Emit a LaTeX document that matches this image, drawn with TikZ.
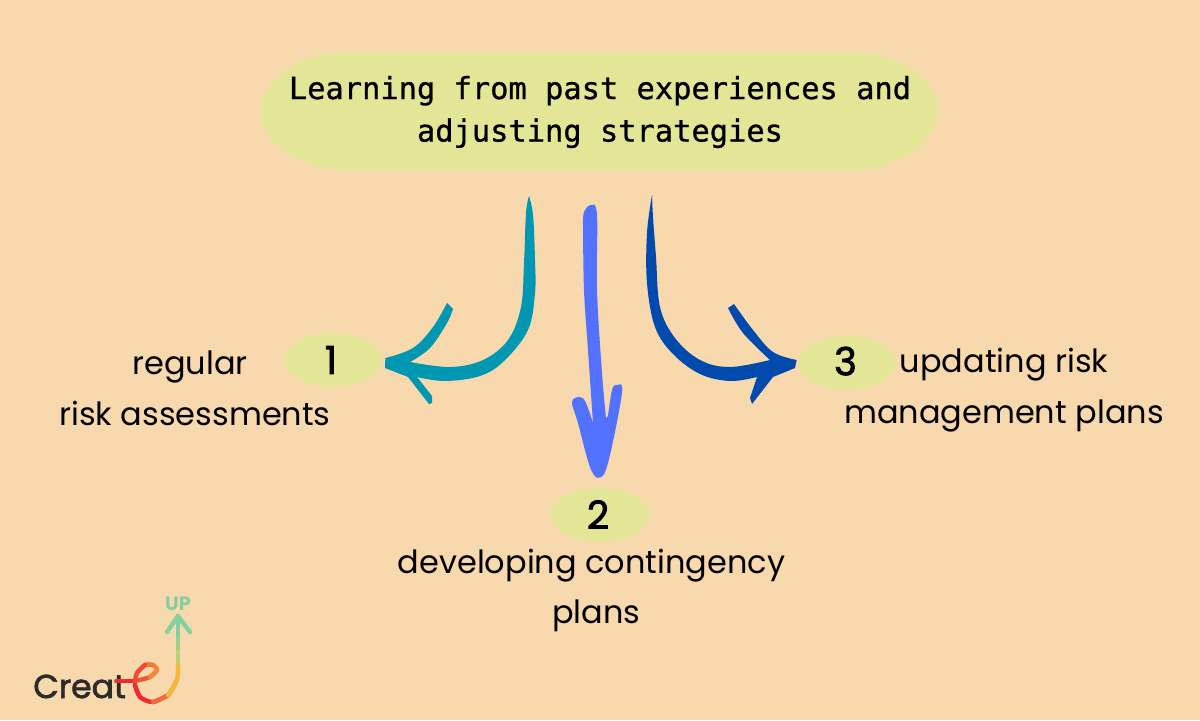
\documentclass[tikz,border=0pt]{standalone}
\usepackage{fontspec}
\usepackage{xcolor}
\setmainfont{Poppins}
\newfontfamily\titlefont[FakeBold=0.9]{DejaVu Sans Mono}
\newfontfamily\markfont[FakeBold=2]{Poppins}
\usetikzlibrary{shapes.geometric,positioning,calc}
\definecolor{pagebg}{HTML}{F8D9AE}
\definecolor{padgreen}{HTML}{E3E597}
\definecolor{tealink}{HTML}{0097B2}
\definecolor{deepink}{HTML}{004AAD}
\definecolor{skyink}{HTML}{5271FF}
\definecolor{logogreen}{HTML}{85CFA0}
\definecolor{logored}{HTML}{EE2B2F}
\definecolor{logoyellow}{HTML}{F7D13E}
\definecolor{logodark}{HTML}{2B2B2B}

\begin{document}
\begin{tikzpicture}[
    x=0.02cm, y=-0.02cm,
    numpad/.style={ellipse, fill=padgreen, inner sep=0pt, minimum width=1.96cm, minimum height=1.08cm, font=\markfont\fontsize{22}{24}\selectfont},
    caption/.style={align=center, inner sep=0pt, font=\fontsize{18.2}{29}\selectfont},
    logoline/.style={line width=2.5pt, line cap=round, line join=round},
    brush/.style={smooth, tension=0.6}
]
    \useasboundingbox (0,0) rectangle (1200,720);
    \fill[pagebg] (0,0) rectangle (1200,720);

    % Title
    \fill[padgreen] (350,52) -- (849,52) arc[start angle=90, end angle=-90, x radius=1.78cm, y radius=1.18cm]
        -- (350,170) arc[start angle=270, end angle=90, x radius=1.78cm, y radius=1.18cm] -- cycle;
    \node[align=center, inner sep=0pt, font=\titlefont\fontsize{17.3}{24.2}\selectfont] (title) at (600,112)
        {Learning from past experiences and\\adjusting strategies};
    \coordinate (titlebottom) at (600,170);

    % Numbered pads
    \node[numpad] (one) at (333,360) {\kern-0.08cm 1};
    \node[numpad] (two) at (600,515) {\kern-0.08cm\raisebox{0.02cm}{2}};
    \node[numpad] (three) at (847,363) {\kern-0.06cm\raisebox{0.08cm}{3}};

    % Captions
    \node[caption] (captionone) at (195,388) {regular\rule{0.2cm}{0pt}\\risk assessments};
    \node[caption] (captiontwo) at (591.5,590.5) {developing contingency\\\hspace{0.2cm}plans};
    \node[caption] (captionthree) at (1004,390.5) {updating risk\\management plans};

    % Brush arrows
    \coordinate (tealtop) at ($(titlebottom)+(-71,26)$);
    \coordinate (tealtip) at ($(one.east)+(3,-2)$);
    \coordinate (skytop) at ($(titlebottom)+(-9,35)$);
    \coordinate (skytip) at ($(two.north)+(-1,-10)$);
    \coordinate (deeptop) at ($(titlebottom)+(52,25)$);
    \coordinate (deeptip) at ($(three.west)+(-1,-3)$);

    \fill[tealink] plot[brush] coordinates {(tealtop) (533,215) (535,260) (535,293) (528,330) (504,361) (480,376) (445,381) (417,377)}
        -- (432,396) -- (432,403) -- (429,404) -- (408,377) -- (385,368) -- (tealtip)
        -- plot[brush] coordinates {(tealtip) (413,348) (433,327) (447,303)}
        -- (453,309)
        -- plot[brush] coordinates {(453,309) (447,323) (430,348) (410,362)}
        -- plot[brush] coordinates {(410,362) (450,367) (483,360) (508,340) (521,307) (524,263) (526,213) (tealtop)} -- cycle;

    \fill[skyink] plot[brush] coordinates {(583,225) (584,212) (skytop) (597,215) (597,290) (602,373) (606,418)}
        -- (608,416)
        -- plot[brush] coordinates {(608,416) (612,390) (617,385) (622,393) (608,463) (skytip) (590,467) (578,423) (572,402) (580,397) (586,403) (593,423)}
        -- plot[brush] coordinates {(593,423) (588,350) (584,290) (583,225)} -- cycle;

    \fill[deepink] plot[brush] coordinates {(deeptop) (647,233) (647,283) (655,327) (673,354) (700,374) (730,381) (757,377)}
        -- (750,398) -- (752,404) -- (773,377) -- (795,368) -- (deeptip)
        -- plot[brush] coordinates {(deeptip) (773,352) (753,330) (734,304)}
        -- (728,308)
        -- plot[brush] coordinates {(728,308) (743,333) (770,360)}
        -- plot[brush] coordinates {(770,360) (730,367) (700,360) (675,338) (660,307) (656,257) (653,217) (deeptop)} -- cycle;

    % Logo
    \node[anchor=base west, inner sep=0pt, text=logodark, font=\markfont\fontsize{18.8}{24}\selectfont] (logotext) at (33,698) {Creat};
    \node[text=logogreen, inner sep=0pt, font=\bfseries\fontsize{11}{12}\selectfont] (logoup) at (178,604) {UP};
    \draw[logoline, logored] (117,681) -- (135,681);
    \draw[logoline, logored!75!logoyellow] plot[smooth] coordinates {(135,681) (150,677) (157,670)};
    \draw[logoline, logored!45!logoyellow] plot[smooth] coordinates {(150,677) (157,670) (153,665) (145,665)};
    \draw[logoline, logored!55!logoyellow] plot[smooth] coordinates {(153,665) (145,665) (137,673)};
    \draw[logoline, logored!80!logoyellow] plot[smooth] coordinates {(145,665) (137,673) (135,685) (140,697)};
    \draw[logoline, logored] plot[smooth] coordinates {(135,685) (140,697) (153,702) (168,695)};
    \draw[logoline, logored!60!logoyellow] plot[smooth] coordinates {(153,702) (168,695) (177,680)};
    \draw[logoline, logored!15!logoyellow] plot[smooth] coordinates {(168,695) (177,680) (178,660)};
    \draw[logoline, logoyellow!50!logogreen] (178,662) -- (178,648);
    \draw[logoline, logoyellow!20!logogreen] (178,648) -- (178,636);
    \draw[logoline, logogreen] (178,636) -- (178,616);
    \draw[logoline, logogreen] (167,632) -- (178,616) -- (190,632);
\end{tikzpicture}
\end{document}
